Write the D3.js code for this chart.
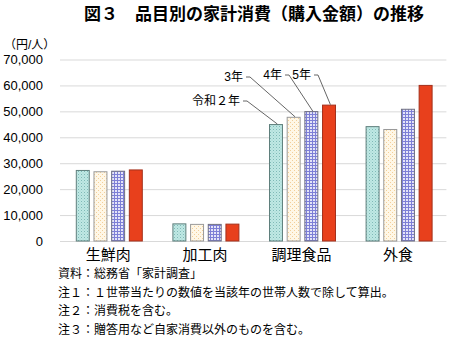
<!DOCTYPE html>
<html><head><meta charset="utf-8">
<script src="https://cdn.jsdelivr.net/npm/d3@7"></script>
<style>
body{margin:0;background:#fff;}
text{font-family:"Liberation Sans","Noto Sans CJK JP",sans-serif;}
</style></head>
<body><svg id="c" width="450" height="340"></svg>
<script>
const categories = ["生鮮肉","加工肉","調理食品","外食"];
const years = ["令和２年","3年","4年","5年"];
const v2020 = [27400, 6800, 45100, 44300];
const v2021 = [26900, 6600, 47900, 43200];
const v2022 = [27100, 6600, 50100, 51000];
const v2023 = [27600, 6700, 52600, 60200];
const yTicks = [0,10000,20000,30000,40000,50000,60000,70000];
const notes = ["資料：総務省「家計調査」","注１：１世帯当たりの数値を当該年の世帯人数で除して算出。","注２：消費税を含む。","注３：贈答用など自家消費以外のものを含む。"];
const series = [v2020, v2021, v2022, v2023];

const svg = d3.select("#c");
const defs = svg.append("defs");
// teal dots
let p = defs.append("pattern").attr("id","p0").attr("width",3).attr("height",3).attr("patternUnits","userSpaceOnUse");
p.append("rect").attr("width",3).attr("height",3).attr("fill","#bfe8e4");
p.append("rect").attr("width",1).attr("height",1).attr("fill","#7fb9b6");
p.append("rect").attr("x",1.5).attr("y",1.5).attr("width",1).attr("height",1).attr("fill","#9fd0cd");
// beige dots
p = defs.append("pattern").attr("id","p1").attr("width",4).attr("height",4).attr("patternUnits","userSpaceOnUse");
p.append("rect").attr("width",4).attr("height",4).attr("fill","#fff7e6");
p.append("rect").attr("width",1).attr("height",1).attr("fill","#f2cf9a");
p.append("rect").attr("x",2).attr("y",2).attr("width",1).attr("height",1).attr("fill","#f2cf9a");
// blue plaid
p = defs.append("pattern").attr("id","p2").attr("width",3).attr("height",3).attr("patternUnits","userSpaceOnUse");
p.append("rect").attr("width",3).attr("height",3).attr("fill","#e4e4f8");
p.append("rect").attr("width",3).attr("height",1).attr("fill","#7d7fd6");
p.append("rect").attr("width",1).attr("height",3).attr("fill","#7d7fd6");

const fills = ["url(#p0)","url(#p1)","url(#p2)","#e8401c"];
const strokes = ["#5f7f7c","#9a9a9a","#707080","#a3301c"];

const x0 = d3.scaleBand().domain(categories).range([60,446.4]).padding(0);
const x1 = d3.scaleBand().domain(years).range([0,67]).paddingInner(0.21);
const y = d3.scaleLinear().domain([0,70000]).range([241,59.5]);

// gridlines
svg.append("g").selectAll("line").data(yTicks).join("line")
  .attr("x1",60).attr("x2",446.4).attr("y1",d=>y(d)+0.5).attr("y2",d=>y(d)+0.5)
  .attr("stroke","#d9d9d9").attr("stroke-width",1);
// y labels
svg.append("g").selectAll("text").data(yTicks).join("text")
  .attr("x",43).attr("y",d=>y(d)).attr("dy","0.36em").attr("text-anchor","end")
  .attr("font-size",13).attr("fill","#000").text(d3.format(","));

// bars
const g = svg.append("g");
categories.forEach((c,i)=>{
  series.forEach((s,j)=>{
    const bx = x0(c) + x0.bandwidth()/2 - 33.5 + 1 + x1(years[j]);
    g.append("rect").attr("x",bx+0.5).attr("y",y(s[i])+0.5)
      .attr("width",x1.bandwidth()-1).attr("height",y(0)-y(s[i])-0.5)
      .attr("fill",fills[j]).attr("stroke",strokes[j]).attr("stroke-width",1);
  });
});

// category labels
svg.append("g").selectAll("text").data(categories).join("text")
  .attr("x",d=>x0(d)+x0.bandwidth()/2).attr("y",260).attr("text-anchor","middle")
  .attr("font-size",15).attr("fill","#000").text(d=>d);

// title
svg.append("text").attr("x",254).attr("y",20).attr("text-anchor","middle")
  .attr("font-size",17).attr("font-weight","bold").text("図３　品目別の家計消費（購入金額）の推移");
svg.append("text").attr("x",4).attr("y",49).attr("font-size",12).text("（円/人）");

// annotations for 調理食品
const ci = 2;
const labelPos = [[215,101,"end"],[243,77,"end"],[282,75,"end"],[311,75,"end"]];
series.forEach((s,j)=>{
  const bx = x0(categories[ci]) + x0.bandwidth()/2 - 33.5 + 1 + x1(years[j]);
  const tx = bx + x1.bandwidth()*0.6;
  const ty = y(s[ci]);
  const [lx,ly] = labelPos[j];
  const lbl = svg.append("text").attr("x",lx+ (j===0?25:0)).attr("y",ly).attr("dy","0.36em")
    .attr("text-anchor","end").attr("font-size",12).text(years[j]);
  const sx = lx + (j===0?25:0) + 3;
  svg.append("polyline").attr("points",`${sx},${ly} ${sx+4},${ly} ${tx},${ty}`)
    .attr("fill","none").attr("stroke","#555").attr("stroke-width",0.9);
});

// notes
svg.append("g").selectAll("text").data(notes).join("text")
  .attr("x",58).attr("y",(d,i)=>278+i*18.5).attr("font-size",12).text(d=>d);
</script></body></html>
